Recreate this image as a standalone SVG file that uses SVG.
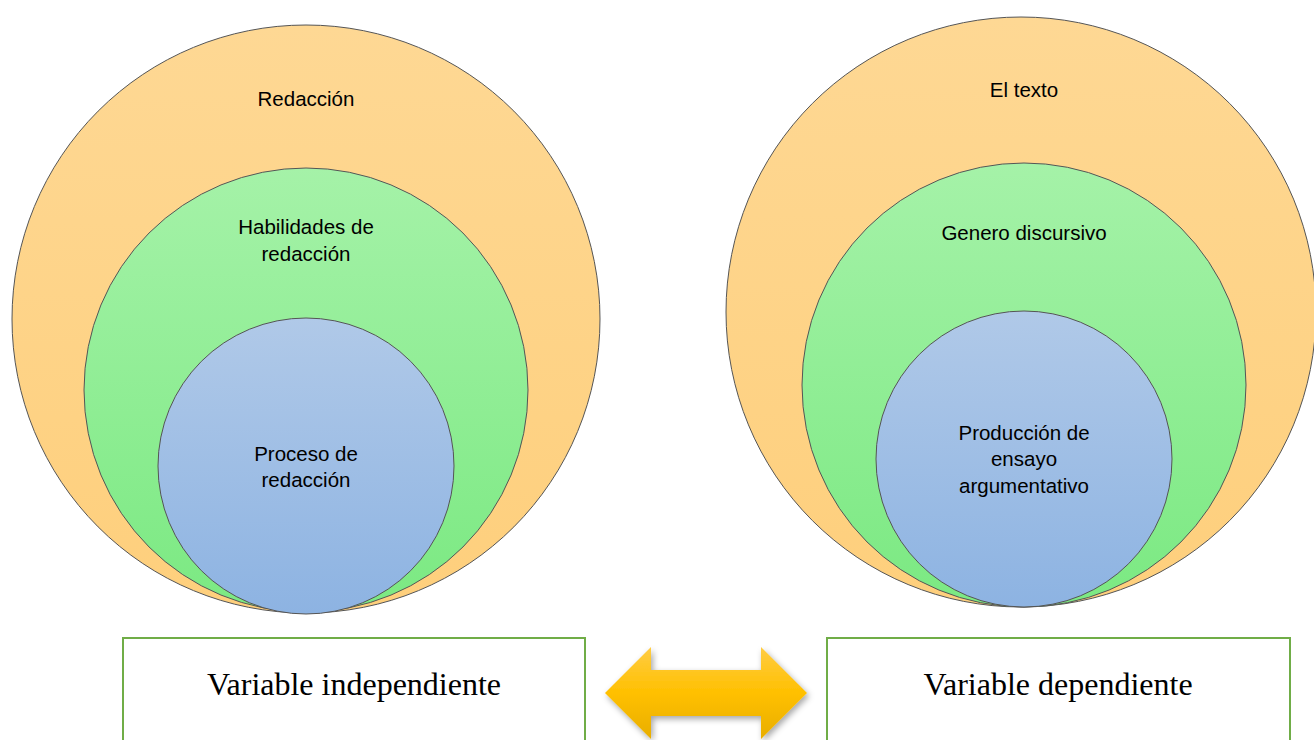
<svg xmlns="http://www.w3.org/2000/svg" width="1314" height="740" viewBox="0 0 1314 740">
<defs>
<linearGradient id="gO" x1="0" y1="0" x2="0" y2="1"><stop offset="0" stop-color="#FED894"/><stop offset="1" stop-color="#FECF7C"/></linearGradient>
<linearGradient id="gG" x1="0" y1="0" x2="0" y2="1"><stop offset="0" stop-color="#A5F2A8"/><stop offset="1" stop-color="#7BE982"/></linearGradient>
<linearGradient id="gB" x1="0" y1="0" x2="0" y2="1"><stop offset="0" stop-color="#B0C9E8"/><stop offset="1" stop-color="#8DB3E2"/></linearGradient>
<linearGradient id="gA" x1="0" y1="0" x2="0" y2="1"><stop offset="0" stop-color="#FFCC44"/><stop offset="0.5" stop-color="#FFC000"/><stop offset="1" stop-color="#E8AE00"/></linearGradient>
<filter id="sh" x="-10%" y="-10%" width="130%" height="130%"><feDropShadow dx="2" dy="3" stdDeviation="3" flood-color="#000" flood-opacity="0.35"/></filter>
<style>
.c{stroke:#555;stroke-width:1}
.o{fill:url(#gO)}.g{fill:url(#gG)}.b{fill:url(#gB)}
.t{font-family:"Liberation Sans",Arial,sans-serif;font-size:20.5px;fill:#000;text-anchor:middle}
.box{fill:#fff;stroke:#70AD47;stroke-width:2}
.bt{font-family:"Liberation Serif","Times New Roman",serif;font-size:32px;fill:#000;text-anchor:middle}
</style>
</defs>
<g id="left-outer"><circle class="c o" cx="306" cy="319" r="294"/><text class="t" x="306" y="106">Redacción</text></g>
<g id="left-middle"><circle class="c g" cx="306" cy="390" r="222"/><text class="t" x="306" y="234">Habilidades de</text><text class="t" x="306" y="261">redacción</text></g>
<g id="left-inner"><circle class="c b" cx="306" cy="466" r="148"/><text class="t" x="306" y="461">Proceso de</text><text class="t" x="306" y="487">redacción</text></g>
<g id="right-outer"><circle class="c o" cx="1021" cy="312" r="295"/><text class="t" x="1024" y="97">El texto</text></g>
<g id="right-middle"><circle class="c g" cx="1024" cy="385" r="222"/><text class="t" x="1024" y="240">Genero discursivo</text></g>
<g id="right-inner"><circle class="c b" cx="1024" cy="459" r="148"/><text class="t" x="1024" y="440">Producción de</text><text class="t" x="1024" y="466">ensayo</text><text class="t" x="1024" y="493">argumentativo</text></g>
<g id="box-left"><rect class="box" x="123" y="638" width="462" height="110"/><text class="bt" x="354" y="695">Variable independiente</text></g>
<g id="box-right"><rect class="box" x="827" y="638" width="463" height="110"/><text class="bt" x="1058" y="695">Variable dependiente</text></g>
<g id="connectors"><path d="M605,693 L651,647 L651,670 L761,670 L761,647 L807,693 L761,739 L761,716 L651,716 L651,739 Z" fill="url(#gA)" filter="url(#sh)"/></g>
</svg>
